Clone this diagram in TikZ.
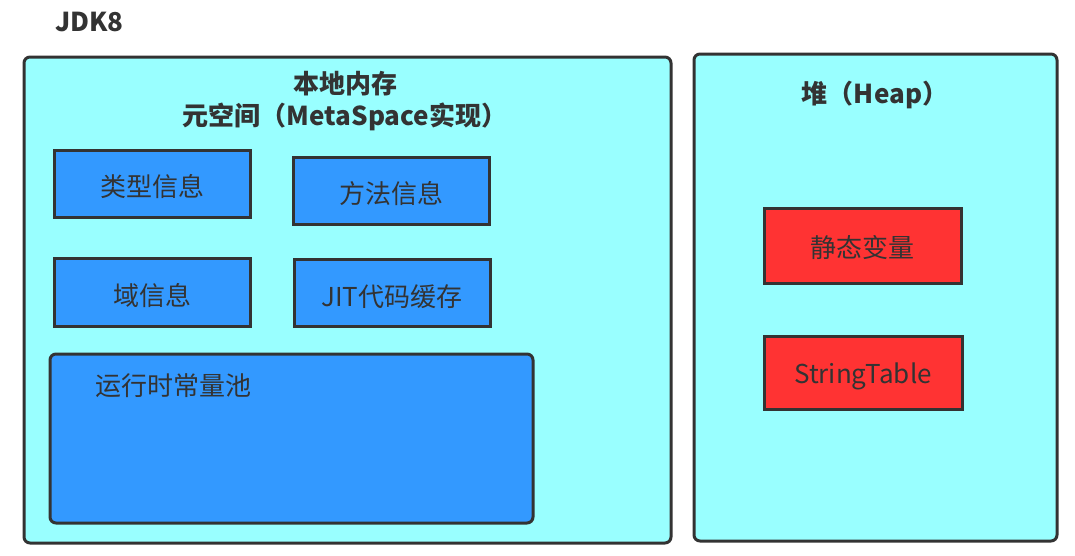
\documentclass[tikz,border=0pt]{standalone}
\usepackage{fontspec}
\newfontfamily\cjk{Noto Sans CJK SC}
\definecolor{cyanbg}{HTML}{99FFFF}
\definecolor{bluebox}{HTML}{3399FF}
\definecolor{redbox}{HTML}{FF3333}
\definecolor{ink}{HTML}{333333}
\tikzset{
  region/.style={draw=ink, line width=3pt, fill=cyanbg, rounded corners=6pt},
  infobox/.style={draw=ink, line width=3pt, fill=bluebox},
  heapbox/.style={draw=ink, line width=3pt, fill=redbox},
  lbl/.style={text=ink, font=\cjk\fontsize{26}{30}\selectfont, inner sep=0pt},
  ttl/.style={text=ink, font=\cjk\bfseries\fontsize{26}{32}\selectfont, inner sep=0pt, align=center},
}
\begin{document}
\begin{tikzpicture}[x=1pt,y=-1pt]
\useasboundingbox (0,0) rectangle (1075,555);
\node[ttl, anchor=west] (jdk) at (55,22) {JDK8};
% left region
\draw[region] (24,57) rectangle (671,543);
\node[ttl] (meta) at (345,101) {本地内存\\元空间（MetaSpace实现）};
\draw[infobox] (54,150) rectangle (250,217);
\node[lbl] (t1) at (152,187) {类型信息};
\draw[infobox] (293,157) rectangle (489,224);
\node[lbl] (t2) at (391,194) {方法信息};
\draw[infobox] (54,258) rectangle (250,326);
\node[lbl] (t3) at (152,296) {域信息};
\draw[infobox] (294,259) rectangle (490,326);
\node[lbl] (t4) at (392,297) {JIT代码缓存};
\draw[infobox, rounded corners=6pt] (50,354) rectangle (533,523);
\node[lbl, anchor=west] (t5) at (95,386) {运行时常量池};
% right region
\draw[region] (694,54) rectangle (1057,541);
\node[ttl] (heap) at (875,95) {堆（Heap）};
\draw[heapbox] (764,208) rectangle (961,283);
\node[lbl] (h1) at (862,248) {静态变量};
\draw[heapbox] (764,336) rectangle (962,409);
\node[lbl] (h2) at (863,376) {StringTable};
\end{tikzpicture}
\end{document}
